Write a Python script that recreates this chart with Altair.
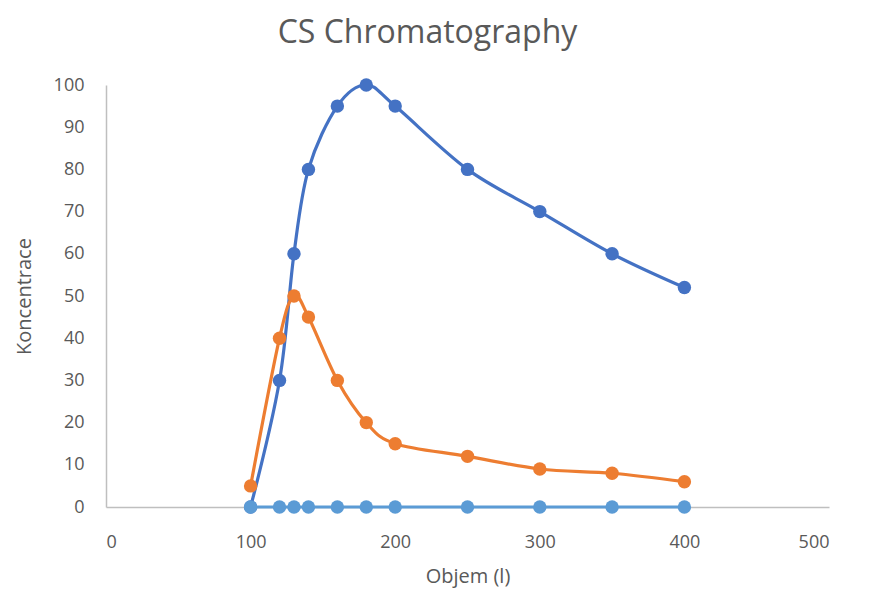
import altair as alt
import pandas as pd

objem = [100, 120, 130, 140, 160, 180, 200, 250, 300, 350, 400]
series_a = [0, 30, 60, 80, 95, 100, 95, 80, 70, 60, 52]
series_b = [5, 40, 50, 45, 30, 20, 15, 12, 9, 8, 6]
series_c = [0, 0, 0, 0, 0, 0, 0, 0, 0, 0, 0]
names = ["A", "B", "C"]
colors = ["#4472C4", "#ED7D31", "#5B9BD5"]

rows = []
for name, vals in zip(names, [series_a, series_b, series_c]):
    for x, y in zip(objem, vals):
        rows.append({"series": name, "objem": x, "konc": y})
df = pd.DataFrame(rows)

font = "Open Sans"
grey = "#595959"

xenc = alt.X("objem:Q", scale=alt.Scale(domain=[0, 500], nice=False),
             axis=alt.Axis(values=[0, 100, 200, 300, 400, 500], title="Objem (l)",
                           grid=False, ticks=False, domainColor="#BFBFBF", domainWidth=1.5,
                           labelFont=font, labelFontSize=18, labelColor=grey, labelPadding=26,
                           titleFont=font, titleFontSize=20, titleColor=grey, titleFontWeight="normal",
                           titlePadding=15))
yenc = alt.Y("konc:Q", scale=alt.Scale(domain=[0, 100], nice=False),
             axis=alt.Axis(values=list(range(0, 101, 10)), title="Koncentrace",
                           grid=False, ticks=False, domainColor="#BFBFBF", domainWidth=1.5,
                           labelFont=font, labelFontSize=18, labelColor=grey, labelPadding=22,
                           titleFont=font, titleFontSize=20, titleColor=grey, titleFontWeight="normal",
                           titlePadding=19))
cenc = alt.Color("series:N", scale=alt.Scale(domain=names, range=colors), legend=None)

layers = []
for name in names:
    sub = df[df.series == name]
    base = alt.Chart(sub)
    line = base.mark_line(interpolate="cardinal", strokeWidth=3.2).encode(x=xenc, y=yenc, color=cenc)
    pts = base.mark_point(filled=True, size=180, opacity=1).encode(x=xenc, y=yenc, color=cenc)
    layers += [line, pts]

chart = alt.layer(*layers).properties(
    width=723, height=422,
    autosize=alt.AutoSizeParams(type="none"),
    padding={"left": 98, "top": 77, "right": 34, "bottom": 84},
    title=alt.TitleParams("CS Chromatography", font=font, fontSize=32, color=grey,
                          fontWeight="normal", anchor="middle", dx=-40, offset=26),
).configure_view(stroke=None)

chart.save("out.html", embed_options={"renderer": "svg", "actions": False})
